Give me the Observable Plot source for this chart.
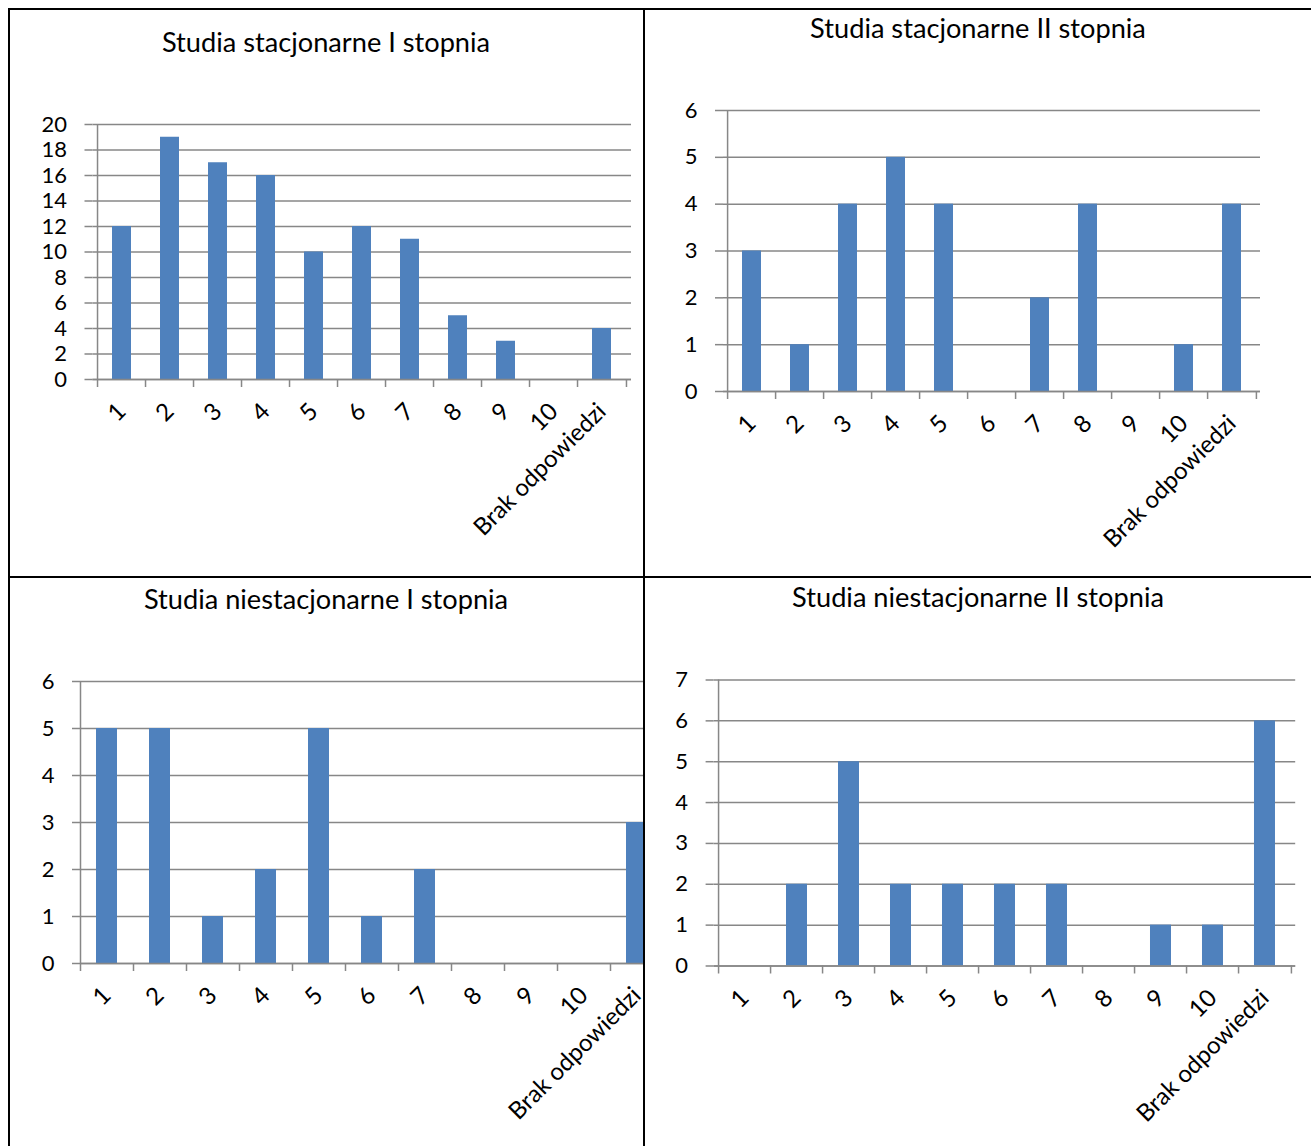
<!DOCTYPE html>
<html><head><meta charset="utf-8">
<script src="https://cdn.jsdelivr.net/npm/d3@7"></script>
<script src="https://cdn.jsdelivr.net/npm/@observablehq/plot@0.6"></script>
<style>
body{margin:0;background:#fff;font-family:Lato,sans-serif}
#page{position:relative;width:1311px;height:1146px;overflow:hidden;background:#fff}
.line{position:absolute;background:#000}
.title{position:absolute;font-family:Lato,sans-serif;font-size:27.2px;color:#000;white-space:nowrap;line-height:1;transform:translateX(-50%)}
.chart{position:absolute;overflow:hidden}
.chart svg{max-width:none!important;overflow:visible}
</style></head><body><div id="page"></div>
<script>
// ---- data ----
const categories = ["1","2","3","4","5","6","7","8","9","10","Brak odpowiedzi"];
const titles = ["Studia stacjonarne I stopnia","Studia stacjonarne II stopnia","Studia niestacjonarne I stopnia","Studia niestacjonarne II stopnia"];
const stacjonarneI = [12,19,17,16,10,12,11,5,3,0,4];
const stacjonarneII = [3,1,4,5,4,0,2,4,0,1,4];
const niestacjonarneI = [5,5,1,2,5,1,2,0,0,0,3];
const niestacjonarneII = [0,2,5,2,2,2,2,0,1,1,6];
const yMaxes = [20,6,6,7];
const yTickSteps = [2,1,1,1];
const seriesList = [stacjonarneI, stacjonarneII, niestacjonarneI, niestacjonarneII];

// ---- layout ----
const layouts = [
  {left:10, top:100, clipW:633, ml:82.5, pw:538.5, mt:24, ph:255, tx:326, ty:42},
  {left:646, top:90, clipW:665, ml:77, pw:537, mt:20, ph:281, tx:978, ty:28},
  {left:10, top:660, clipW:633, ml:70, pw:583, mt:21, ph:282, tx:326, ty:599},
  {left:646, top:660, clipW:665, ml:67.6, pw:581.6, mt:19.5, ph:286, tx:978, ty:597}
];
const BAR = "#4F81BD", GRID = "#878787", FSY = 22, FSX = 24;

const page = document.getElementById("page");
function line(x, y, w, h){const d=document.createElement("div");d.className="line";Object.assign(d.style,{left:x+"px",top:y+"px",width:w+"px",height:h+"px"});page.appendChild(d);}

seriesList.forEach((vals, k) => {
  const L = layouts[k];
  const data = categories.map((c, i) => ({cat: c, value: vals[i]}));
  const ymax = yMaxes[k];
  const ticks = d3.range(0, ymax + 1e-9, yTickSteps[k]);
  const step = L.pw / categories.length;
  const mr = 20, mb = 200;
  const chart = Plot.plot({
    width: L.ml + L.pw + mr,
    height: L.mt + L.ph + mb,
    marginLeft: L.ml, marginRight: mr, marginTop: L.mt, marginBottom: mb,
    style: {fontFamily: "Lato, sans-serif", fontSize: FSY + "px", background: "transparent", overflow: "visible"},
    x: {type: "band", domain: categories, paddingInner: 0.6, paddingOuter: 0.3, align: 0.5},
    y: {domain: [0, ymax]},
    marks: [
      Plot.gridY({ticks, stroke: GRID, strokeOpacity: 1, strokeWidth: 1.5}),
      Plot.axisY({ticks, tickFormat: d3.format("d"), tickSize: 8, tickPadding: 18, stroke: GRID, strokeWidth: 1.5, fill: "#000", fontSize: FSY, label: null}),
      Plot.barY(data, {x: "cat", y: "value", fill: BAR}),
      Plot.ruleY([0], {stroke: GRID, strokeWidth: 1.5}),
      Plot.ruleX([categories[0]], {y1: 0, y2: ymax, dx: -step/2, stroke: GRID, strokeWidth: 1.5}),
      Plot.ruleX(categories, {y1: 0, y2: 0, insetBottom: -8, dx: -step/2, stroke: GRID, strokeWidth: 1.5}),
      Plot.ruleX([categories[categories.length-1]], {y1: 0, y2: 0, insetBottom: -8, dx: step/2, stroke: GRID, strokeWidth: 1.5}),
      Plot.axisX({tickSize: 0, tickPadding: 28, tickRotate: -45, fontSize: FSX, fill: "#000", label: null})
    ]
  });
  const wrap = document.createElement("div");
  wrap.className = "chart";
  Object.assign(wrap.style, {left: L.left + "px", top: L.top + "px", width: L.clipW + "px", height: (L.mt + L.ph + mb) + "px"});
  wrap.appendChild(chart);
  page.appendChild(wrap);
  const t = document.createElement("div");
  t.className = "title";
  t.textContent = titles[k];
  Object.assign(t.style, {left: L.tx + "px", top: (L.ty - 14) + "px"});
  page.appendChild(t);
});

// table borders
line(8, 8, 1303, 2);
line(8, 8, 2, 1138);
line(643, 8, 2, 1138);
line(8, 576, 1303, 2);
</script></body></html>
